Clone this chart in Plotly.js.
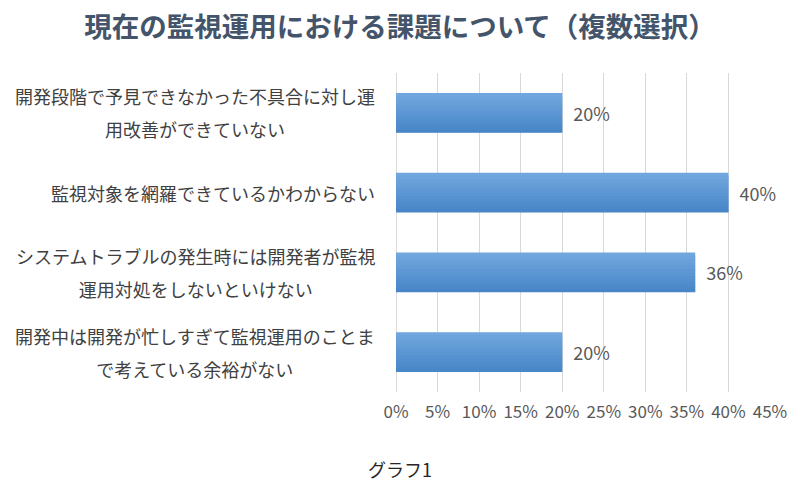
<!DOCTYPE html>
<html>
<head>
<meta charset="utf-8">
<script src="https://cdn.plot.ly/plotly-3.0.1.min.js"></script>
<style>html,body{margin:0;padding:0;background:#fff;}#chart{width:800px;height:498px;}</style>
</head>
<body>
<div id="chart"></div>
<script>
const categories = [
  "開発段階で予見できなかった不具合に対し運<br>用改善ができていない",
  "監視対象を網羅できているかわからない",
  "システムトラブルの発生時には開発者が監視<br>運用対処をしないといけない",
  "開発中は開発が忙しすぎて監視運用のことま<br>で考えている余裕がない"
];
const values = [20, 40, 36, 20];
const tickVals = [0, 5, 10, 15, 20, 25, 30, 35, 40, 45];
const tickText = ["0%", "5%", "10%", "15%", "20%", "25%", "30%", "35%", "40%", "45%"];
const chartTitle = "現在の監視運用における課題について（複数選択）";
const caption = "グラフ1";

const font = "'Noto Sans CJK JP', 'Noto Sans', sans-serif";

// vertical gradient for the bars, built from overlaid thin bar bands
const topColor = [113, 167, 222];
const bottomColor = [72, 134, 200];
const nBands = 12;
const barWidth = 0.5;
const traces = [];
for (let i = 0; i < nBands; i++) {
  const t = i / (nBands - 1);
  const c = topColor.map((v, k) => Math.round(v + (bottomColor[k] - v) * t));
  const w = barWidth / nBands;
  traces.push({
    type: "bar",
    orientation: "h",
    y: categories,
    x: values,
    width: i < nBands - 1 ? w * 1.8 : w,
    offset: -barWidth / 2 + i * w,
    marker: {color: "rgb(" + c.join(",") + ")", line: {width: 0}},
    hoverinfo: "none"
  });
}
// label carrier (transparent full bar)
traces.push({
  type: "bar",
  orientation: "h",
  y: categories,
  x: values,
  width: barWidth,
  offset: -barWidth / 2,
  marker: {color: "rgba(0,0,0,0)", line: {width: 0}},
  text: values.map(v => "\u00a0\u00a0" + v + "%"),
  textposition: "outside",
  textfont: {family: font, size: 18, color: "#595959"},
  cliponaxis: false,
  hoverinfo: "none"
});

const catAnnotations = categories.map(c => ({
  text: "<span style='font-size:18px'>" + c + "</span>",
  xref: "paper", yref: "y",
  x: 0, y: c,
  xanchor: "right", yanchor: "middle",
  xshift: -19,
  align: "center",
  showarrow: false,
  font: {family: font, size: 25, color: "#404040"}
}));

Plotly.newPlot("chart", traces, {
  width: 800, height: 498,
  margin: {l: 396, r: 30, t: 73, b: 106},
  paper_bgcolor: "#ffffff",
  plot_bgcolor: "#ffffff",
  barmode: "overlay",
  showlegend: false,
  title: {
    text: "<b>" + chartTitle + "</b>",
    x: 0.5, xanchor: "center",
    y: 0.945, yanchor: "middle",
    font: {family: font, size: 27.5, color: "#44546a"}
  },
  xaxis: {
    range: [0, 45],
    tickvals: tickVals,
    ticktext: tickText,
    showgrid: true,
    gridcolor: "#d9d9d9",
    gridwidth: 1,
    zeroline: true,
    zerolinecolor: "#d9d9d9",
    showline: false,
    ticks: "",
    ticklabelstandoff: 8,
    tickfont: {family: font, size: 17, color: "#595959"},
    fixedrange: true
  },
  yaxis: {
    autorange: "reversed",
    showgrid: false,
    zeroline: false,
    showline: false,
    ticks: "",
    showticklabels: false,
    fixedrange: true
  },
  annotations: catAnnotations.concat([{
    text: caption,
    xref: "paper", yref: "paper",
    x: 4 / 374,
    xanchor: "center",
    y: -0.24, yanchor: "middle",
    showarrow: false,
    font: {family: font, size: 18, color: "#262626"}
  }])
}, {displayModeBar: false, staticPlot: true});
</script>
</body>
</html>
